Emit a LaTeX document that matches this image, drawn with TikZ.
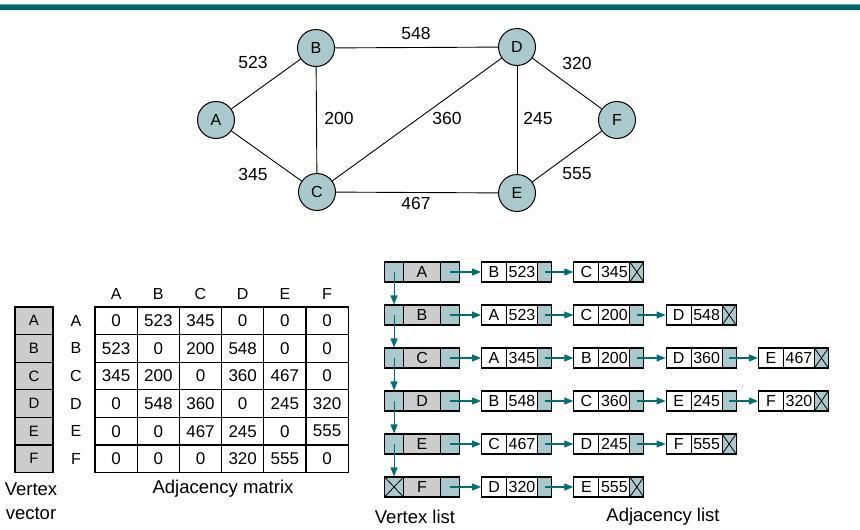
\documentclass[tikz,border=0pt]{standalone}
\usepackage{fontspec}
\setmainfont{Liberation Sans}
\usetikzlibrary{arrows.meta}
\definecolor{barteal}{RGB}{0,102,106}
\definecolor{nodefill}{RGB}{169,201,204}
\definecolor{grayfill}{RGB}{204,204,204}
\definecolor{arrowc}{RGB}{0,112,117}
\tikzset{
  gnode/.style={circle,draw,line width=1pt,fill=nodefill,minimum size=37pt,inner sep=0pt,font=\fontsize{16}{18}\selectfont},
  gedge/.style={line width=0.9pt},
  elabel/.style={inner sep=0pt,font=\fontsize{17.5}{19}\selectfont},
  mcell/.style={draw,line width=1.1pt,minimum width=42.2pt,minimum height=27.6pt,inner sep=0pt,font=\fontsize{17}{19}\selectfont},
  mhead/.style={inner sep=0pt,font=\fontsize{16}{18}\selectfont},
  vvcell/.style={draw,line width=1.1pt,fill=grayfill,minimum width=38pt,minimum height=27.6pt,inner sep=0pt,font=\fontsize{15}{17}\selectfont},
  captext/.style={inner sep=0pt,font=\fontsize{18.5}{24}\selectfont,align=center},
  lcell/.style={draw,line width=1.1pt,minimum height=20pt,inner sep=0pt,anchor=west,font=\fontsize{16}{18}\selectfont},
  tcell/.style={lcell,fill=nodefill},
  gcell/.style={lcell,fill=grayfill},
  xcell/.style={tcell,path picture={\draw[line width=0.8pt] (path picture bounding box.north west) -- (path picture bounding box.south east) (path picture bounding box.south west) -- (path picture bounding box.north east);}},
  larrow/.style={draw=arrowc,line width=1.1pt,-{Triangle[length=9pt,width=7pt]},arrowc},
}
\begin{document}
\begin{tikzpicture}[x=1pt,y=-1pt]
\useasboundingbox (0,0) rectangle (860,530);
\fill[barteal] (0,4) rectangle (860,10);
\fill[barteal!60] (0,4) rectangle (860,5);

% graph
\node[gnode] (A) at (216,120) {A};
\node[gnode] (B) at (316,48) {B};
\node[gnode] (C) at (317,192) {C};
\node[gnode] (D) at (517,47) {D};
\node[gnode] (E) at (517,193) {E};
\node[gnode] (F) at (617,120) {F};
\draw[gedge] (A) -- (B);
\draw[gedge] (A) -- (C);
\draw[gedge] (B) -- (C);
\draw[gedge] (B) -- (D);
\draw[gedge] (C) -- (D);
\draw[gedge] (C) -- (E);
\draw[gedge] (D) -- (E);
\draw[gedge] (D) -- (F);
\draw[gedge] (E) -- (F);
\node[elabel] (lAB) at (253,62) {523};
\node[elabel] (lAC) at (253,174) {345};
\node[elabel] (lBC) at (339,118) {200};
\node[elabel] (lBD) at (416,33) {548};
\node[elabel] (lCD) at (447,118) {360};
\node[elabel] (lCE) at (416,203) {467};
\node[elabel] (lDE) at (538,118) {245};
\node[elabel] (lDF) at (577,63) {320};
\node[elabel] (lEF) at (577,174) {555};

% vertex vector
\foreach \v [count=\r] in {A,B,C,D,E,F} {
  \node[vvcell] (VV\r) at (34,{307+27.6*(\r-0.5)}) {\v};
  \node[mhead] (RH\r) at (76,{307+27.6*(\r-0.5)}) {\v};
  \node[mhead] (CH\r) at ({95+42.2*(\r-0.5)},294) {\v};
}
\node[captext] (vvcap) at (31,501) {Vertex\\vector};

% adjacency matrix
\foreach \row [count=\r] in {{0,523,345,0,0,0},{523,0,200,548,0,0},{345,200,0,360,467,0},{0,548,360,0,245,320},{0,0,467,245,0,555},{0,0,0,320,555,0}} {
  \foreach \val [count=\c] in \row {
    \node[mcell] (M\r-\c) at ({95+42.2*(\c-0.5)},{307+27.6*(\r-0.5)}) {\val};
  }
}
\node[captext] (amcap) at (223,489) {Adjacency matrix};

% vertex list and adjacency lists
\foreach \v/\len/\items [count=\r] in {
  A/2/{B/523,C/345},
  B/3/{A/523,C/200,D/548},
  C/4/{A/345,B/200,D/360,E/467},
  D/4/{B/548,C/360,E/245,F/320},
  E/3/{C/467,D/245,F/555},
  F/2/{D/320,E/555}} {
  \pgfmathsetmacro{\yy}{272+43*(\r-1)}
  \ifnum\r=6
    \node[xcell,minimum width=19pt] (VN\r) at (384,\yy) {};
  \else
    \node[tcell,minimum width=19pt] (VN\r) at (384,\yy) {};
  \fi
  \node[gcell,minimum width=37pt] (VL\r) at (403,\yy) {\v};
  \node[tcell,minimum width=19pt] (VA\r) at (440,\yy) {};
  \foreach \l/\n [count=\k] in \items {
    \pgfmathsetmacro{\xx}{481+92.3*(\k-1)}
    \node[lcell,minimum width=25pt] (L\r-\k) at (\xx,\yy) {\l};
    \node[lcell,minimum width=31pt] (N\r-\k) at (\xx+25,\yy) {\n};
    \ifnum\k=\len
      \node[xcell,minimum width=14pt] (P\r-\k) at (\xx+56,\yy) {};
    \else
      \node[tcell,minimum width=14pt] (P\r-\k) at (\xx+56,\yy) {};
    \fi
    \ifnum\k=1
      \draw[larrow] (VA\r.center) -- (L\r-\k.west);
    \else
      \pgfmathtruncatemacro{\pk}{\k-1}
      \draw[larrow] (P\r-\pk.center) -- (L\r-\k.west);
    \fi
  }
}
\foreach \r in {1,...,5} {
  \pgfmathtruncatemacro{\nr}{\r+1}
  \draw[larrow] (VN\r.center) -- (VN\nr.north);
}
\node[captext] (vlcap) at (415,517) {Vertex list};
\node[captext] (alcap) at (663,517) {Adjacency list};
\end{tikzpicture}
\end{document}
